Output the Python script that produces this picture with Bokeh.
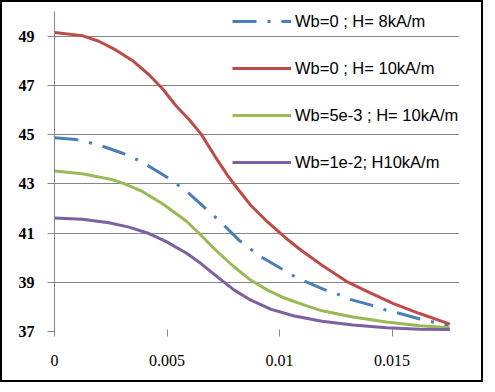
from bokeh.plotting import figure
from bokeh.models import Range1d, FixedTicker, Legend, LegendItem
from bokeh.embed import file_html
from bokeh.resources import INLINE

# Data
x_blue = [0.0, 0.00094, 0.00156, 0.00212, 0.00309, 0.00358, 0.00406, 0.00495, 0.00544, 0.00595,
          0.00665, 0.0071, 0.00754, 0.00821, 0.00869, 0.00918, 0.01007, 0.01052, 0.01103, 0.01197,
          0.01252, 0.01312, 0.01408, 0.0146, 0.0152, 0.01616, 0.01668, 0.0175]
y_blue = [44.87, 44.80, 44.67, 44.53, 44.22, 44.02, 43.79, 43.30, 42.98, 42.63,
          42.05, 41.69, 41.31, 40.70, 40.37, 40.03, 39.56, 39.31, 39.08, 38.71,
          38.54, 38.31, 38.07, 37.90, 37.77, 37.53, 37.42, 37.23]

x_red = [0.0, 0.00123, 0.00197, 0.00272, 0.00346, 0.0042, 0.0048, 0.00539, 0.00598, 0.00651,
         0.00725, 0.00769, 0.00814, 0.00873, 0.00947, 0.01022, 0.01096, 0.01189, 0.01297, 0.01401,
         0.01504, 0.01623, 0.01757]
y_red = [49.15, 49.02, 48.79, 48.44, 48.01, 47.43, 46.86, 46.18, 45.61, 45.03,
         43.95, 43.34, 42.80, 42.12, 41.45, 40.84, 40.30, 39.69, 39.04, 38.58,
         38.14, 37.73, 37.30]

x_green = [0.0, 0.00123, 0.00257, 0.00301, 0.0039, 0.0048, 0.00587, 0.00651, 0.00725, 0.00799,
           0.00873, 0.00947, 0.01022, 0.01111, 0.01189, 0.01326, 0.01475, 0.01623, 0.01757]
y_green = [43.52, 43.41, 43.17, 43.04, 42.69, 42.19, 41.48, 40.91, 40.23, 39.62,
           39.08, 38.68, 38.36, 38.07, 37.84, 37.59, 37.39, 37.23, 37.15]

x_purple = [0.0, 0.00123, 0.00242, 0.00331, 0.0042, 0.00495, 0.00587, 0.00651, 0.00725, 0.00799,
            0.00873, 0.00963, 0.01066, 0.01189, 0.01326, 0.01475, 0.01623, 0.01757]
y_purple = [41.61, 41.56, 41.42, 41.24, 40.98, 40.66, 40.18, 39.76, 39.21, 38.68,
            38.27, 37.90, 37.63, 37.42, 37.26, 37.15, 37.09, 37.08]

labels = ["Wb=0 ; H= 8kA/m", "Wb=0 ; H= 10kA/m", "Wb=5e-3 ; H= 10kA/m", "Wb=1e-2; H10kA/m"]
x_ticks = [0, 0.005, 0.01, 0.015]
x_tick_labels = {0: "0", 0.005: "0.005", 0.01: "0.01", 0.015: "0.015"}
y_ticks = [37, 39, 41, 43, 45, 47, 49]

p = figure(width=483, height=382, output_backend="svg", toolbar_location=None,
           x_range=Range1d(0, 0.018), y_range=Range1d(37, 50),
           min_border_left=52, min_border_right=26, min_border_top=9, min_border_bottom=53)
p.styles = {"border": "2px solid black"}
p.outline_line_color = None
p.background_fill_color = "white"
p.border_fill_color = "white"

grid_col = "#868686"
p.xgrid.grid_line_color = None
p.ygrid.grid_line_color = grid_col
p.ygrid.grid_line_width = 1
p.ygrid.ticker = FixedTicker(ticks=y_ticks)

p.yaxis.ticker = FixedTicker(ticks=y_ticks)
p.yaxis.axis_line_color = grid_col
p.yaxis.major_tick_line_color = grid_col
p.yaxis.major_tick_out = 7
p.yaxis.major_tick_in = 0
p.yaxis.minor_tick_line_color = None
p.yaxis.major_label_text_font = "Liberation Serif"
p.yaxis.major_label_text_font_style = "bold"
p.yaxis.major_label_text_font_size = "16px"
p.yaxis.major_label_text_color = "black"
p.yaxis.major_label_standoff = 13

p.xaxis.ticker = FixedTicker(ticks=x_ticks)
p.xaxis.major_label_overrides = x_tick_labels
p.xaxis.axis_line_color = None
p.xaxis.major_tick_line_color = grid_col
p.xaxis.major_tick_out = 5
p.xaxis.major_tick_in = 2
p.xaxis.minor_tick_line_color = None
p.xaxis.major_label_text_font = "Liberation Serif"
p.xaxis.major_label_text_font_size = "16px"
p.xaxis.major_label_text_color = "black"
p.xaxis.major_label_standoff = 18

r1 = p.line(x_blue, y_blue, line_color="#4A7EBB", line_width=3, line_dash="24 11 3 11")
r2 = p.line(x_red, y_red, line_color="#BE4B48", line_width=3)
r3 = p.line(x_green, y_green, line_color="#98B954", line_width=3)
r4 = p.line(x_purple, y_purple, line_color="#7D60A0", line_width=3)

legend = Legend(items=[LegendItem(label=labels[i], renderers=[r]) for i, r in enumerate([r1, r2, r3, r4])],
                location=(178, 159))
legend.background_fill_alpha = 0
legend.border_line_color = None
legend.padding = 0
legend.margin = 0
legend.glyph_width = 59
legend.glyph_height = 20
legend.label_height = 20
legend.spacing = 27
legend.label_standoff = 4
legend.label_text_font = "Liberation Sans"
legend.label_text_font_size = "16.5px"
legend.label_text_color = "black"
p.add_layout(legend, "center")

open("out.html", "w").write(file_html(p, INLINE))
